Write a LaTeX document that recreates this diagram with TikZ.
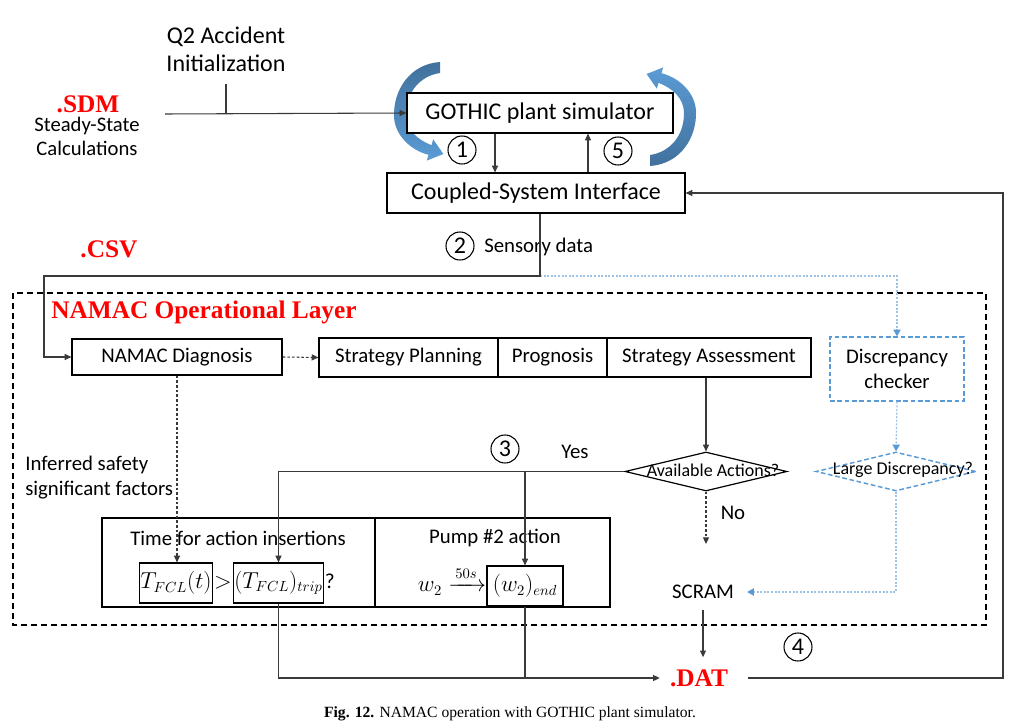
\documentclass[tikz,border=0pt]{standalone}
\usepackage{fontspec}
\usepackage{amsmath}
\setmainfont{Carlito}
\newfontfamily\serifred{Liberation Serif}
\usetikzlibrary{arrows.meta,shapes.geometric,calc}
\definecolor{lgray}{HTML}{3A3A3A}
\definecolor{bluedash}{HTML}{5B9BD5}
\definecolor{bluedot}{HTML}{9DC3E6}
\definecolor{bluedark}{HTML}{41719C}
\definecolor{redlbl}{HTML}{FF0000}
\newcommand\fntL{\fontsize{18}{21}\selectfont}
\newcommand\fntM{\fontsize{15.6}{18.7}\selectfont}
\newcommand\fntS{\fontsize{13.5}{16}\selectfont}
\begin{document}
\begin{tikzpicture}[x=0.75pt,y=-0.75pt,
  box/.style={draw=black, line width=0.9pt, inner sep=0pt, fill=white},
  bbox/.style={draw=bluedash, line width=1.1pt, dash pattern=on 3.5pt off 2pt, inner sep=0pt},
  dia/.style={diamond, draw=black, line width=0.9pt, inner sep=0pt},
  bdia/.style={diamond, draw=bluedash, line width=1.1pt, dash pattern=on 3.5pt off 2pt, inner sep=0pt},
  num/.style={circle, draw=black, line width=0.8pt, minimum size=21pt, inner sep=0pt, font=\fontsize{18}{18}\selectfont},
  redtxt/.style={text=redlbl, font=\serifred\bfseries\fontsize{19}{22}\selectfont},
  conn/.style={draw=lgray, line width=0.8pt},
  arr/.style={conn, -{Triangle[length=5pt,width=4.5pt]}},
  dotarr/.style={arr, dash pattern=on 2pt off 1.5pt},
  bdot/.style={draw=bluedot, line width=0.9pt, dash pattern=on 1.5pt off 1.2pt},
  bdotarr/.style={bdot, -{Triangle[length=5pt,width=5.5pt,color=bluedash]}},
  mathtxt/.style={font=\fontsize{16}{19}\selectfont, inner sep=0.5pt}
]
\useasboundingbox (0,0) rectangle (1017,727);
\fill[white] (0,0) rectangle (1017,727);

% blue curved arrows
\shade[top color=bluedark, bottom color=bluedash] (440,62) .. controls (410,64) and (393,90) .. (394,117) .. controls (395,135) and (410,150) .. (428.5,154.8) -- (426.8,160.6) -- (443.4,154) -- (433.2,139.4) -- (431.5,145.2) .. controls (418,140) and (406,130) .. (406,115) .. controls (406,92) and (420,76) .. (440,73) -- cycle;
\shade[top color=bluedash, bottom color=bluedark] (650,166) .. controls (680,164) and (697,138) .. (696,111) .. controls (695,93) and (680,78) .. (661.5,73.2) -- (663.2,67.4) -- (646.6,74) -- (656.8,88.6) -- (658.5,82.8) .. controls (672,88) and (684,98) .. (684,113) .. controls (684,136) and (670,152) .. (650,155) -- cycle;

% top texts
\node[font=\fntL, align=center, inner sep=0pt] (q2) at (226,49) {Q2 Accident\\Initialization};
\coordinate (q2foot) at (226,84);
\node[redtxt, inner sep=0pt] (sdm) at (88,104) {.SDM};
\node[font=\fontsize{15.5}{18}\selectfont, align=center, inner sep=0pt] (ssc) at (87,136) {Steady-State\\Calculations};
\coordinate (sdmend) at (165,114);

\node[box, minimum width=199.5pt, minimum height=30pt, font=\fntL] (gothic) at (540,113) {GOTHIC plant simulator};
\node[box, minimum width=223.5pt, minimum height=30pt, font=\fntL] (csi) at (536,193) {Coupled-System Interface};
\node[num] (n1) at (462,150) {1};
\node[num] (n5) at (618,151) {5};
\coordinate (xa) at (495,0);
\coordinate (xb) at (588,0);
\coordinate (xs) at (540,0);

\node[num] (n2) at (460,246) {2};
\node[font=\fntM, anchor=west, inner sep=0pt] (sens) at (484,247) {Sensory data};
\node[redtxt, inner sep=0pt] (csv) at (109,249) {.CSV};
\coordinate (csvcorner) at (44,276);

% operational layer
\draw[black, line width=0.8pt, dash pattern=on 4.5pt off 3pt] (13,293) rectangle (986,625);
\node[redtxt, anchor=west, inner sep=0pt] (layer) at (51,312) {NAMAC Operational Layer};

\node[box, minimum width=157.5pt, minimum height=27pt, font=\fntM] (diag) at (177,357) {NAMAC Diagnosis};
\node[box, minimum width=134.25pt, minimum height=29.25pt, font=\fntM] (plan) at (408.5,357.5) {Strategy Planning};
\node[box, minimum width=81.75pt, minimum height=29.25pt, font=\fntM] (prog) at (552.5,357.5) {Prognosis};
\node[box, minimum width=153pt, minimum height=29.25pt, font=\fntM] (assess) at (709,357.5) {Strategy Assessment};
\node[bbox, minimum width=100.5pt, minimum height=48pt, font=\fntM, align=center] (disc) at (897,369) {Discrepancy\\checker};

\node[dia, minimum width=121.5pt, minimum height=29.25pt] (avail) at (706,471.5) {};
\node[font=\fntS, inner sep=0pt] (availtxt) at (713,470) {Available Actions?};
\node[bdia, minimum width=120pt, minimum height=29.25pt] (large) at (896,471.5) {};
\node[font=\fntS, inner sep=0pt] (largetxt) at (903,470) {Large Discrepancy?};

\node[num] (n3) at (505,449) {3};
\node[font=\fntM, inner sep=0pt] (yes) at (575,452) {Yes};
\node[font=\fntM, inner sep=0pt] (no) at (733,513) {No};
\coordinate (noend) at (706,544);
\node[font=\fntM, align=left, anchor=west, inner sep=0pt] (infer) at (25,477.5) {Inferred safety\\significant factors};

% action boxes
\node[box, fill=none, minimum width=204.75pt, minimum height=66.75pt] (timebox) at (238.5,562.5) {};
\node[box, fill=none, minimum width=176.25pt, minimum height=66.75pt] (pumpbox) at (492.5,562.5) {};
\node[font=\fntM, inner sep=0pt] (timetxt) at (238,538) {Time for action insertions};
\node[font=\fntM, inner sep=0pt] (pumptxt) at (495,538) {Pump \#2 action};
\node[box, fill=none, minimum width=52.5pt, minimum height=30pt, mathtxt] (tfcl) at (176,583) {$T_{FCL}(t)$};
\node[box, fill=none, minimum width=65.25pt, minimum height=30pt, mathtxt] (trip) at (278.5,583) {$(T_{FCL})_{trip}$};
\node[mathtxt, anchor=base] (gt) at ($(tfcl.base east)!0.5!(trip.base west)$) {$>$};
\node[mathtxt, anchor=base west] (qm) at (trip.base east) {?};
\node[box, fill=none, minimum width=57pt, minimum height=30pt, mathtxt] (wend) at (525,586) {$(w_2)_{end}$};
\node[mathtxt, anchor=base east, inner sep=0pt] (w2) at (wend.base west) {$w_2\xrightarrow{\,50s\,}$};

\node[font=\fntM, inner xsep=9.75pt, inner ysep=8.5pt] (scram) at (703,592) {SCRAM};
\node[redtxt, inner xsep=7.5pt, inner ysep=9pt] (dat) at (699,678) {.DAT};
\node[num] (n4) at (798,647) {4};
\coordinate (retcorner) at (1003,678);

% connectors
\draw[arr] (sdmend) -- (gothic.west);
\draw[conn] (q2foot) -- (q2foot |- gothic.west);
\draw[arr] (gothic.south -| xa) -- (csi.north -| xa);
\draw[arr] (csi.north -| xb) -- (gothic.south -| xb);
\draw[bdotarr] (xs |- csvcorner) -| (disc.north);
\draw[arr] (csi.south -| xs) |- (csvcorner) |- (diag.west);
\draw[dotarr] (diag.east) -- (plan.west);
\draw[dotarr] (diag.south) -- (diag.south |- tfcl.north);
\draw[arr] (avail.north |- assess.south) -- (avail.north);
\draw[arr] (avail.west) -| (trip.north);
\draw[arr] (wend.north |- avail.west) -- (wend.north);
\draw[dotarr] (avail.south) -- (noend);
\draw[bdotarr] (disc.south) -- (large.north);
\draw[bdotarr] (large.south) |- (scram.east);
\draw[arr] (scram.south) -- (scram.south |- dat.north);
\draw[arr] (trip.south) |- (dat.west);
\draw[conn] (wend.south) -- (wend.south |- dat.west);
\draw[arr] ([xshift=7pt]dat.east) -- (retcorner) |- (csi.east);

% caption
\node[font=\serifred\fontsize{11.7}{14}\selectfont, inner sep=0pt] (caption) at (510,714) {\textbf{Fig. 12.} NAMAC operation with GOTHIC plant simulator.};
\end{tikzpicture}
\end{document}
